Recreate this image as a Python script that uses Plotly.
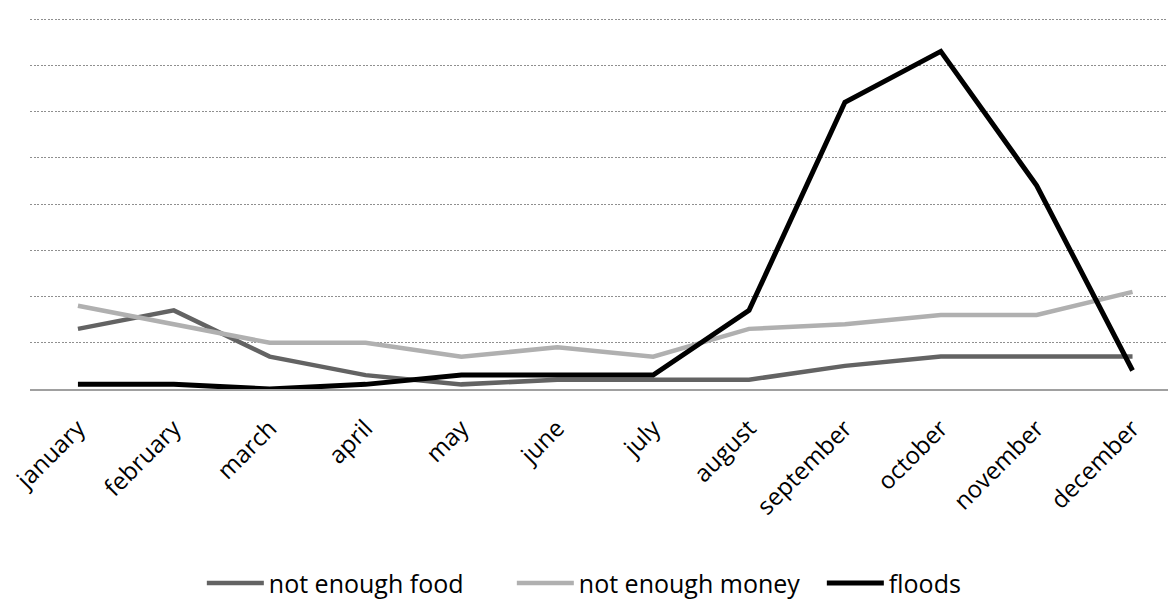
import plotly.graph_objects as go

months = ["january", "february", "march", "april", "may", "june",
          "july", "august", "september", "october", "november", "december"]

not_enough_food = [13, 17, 7, 3, 1, 2, 2, 2, 5, 7, 7, 7]
not_enough_money = [18, 14, 10, 10, 7, 9, 7, 13, 14, 16, 16, 21]
floods = [1, 1, 0, 1, 3, 3, 3, 17, 62, 73, 44, 4]

grid_values = [10, 20, 30, 40, 50, 60, 70, 80]

font_family = "Open Sans, Lato, sans-serif"

fig = go.Figure()
fig.add_trace(go.Scatter(x=months, y=not_enough_food, mode="lines",
                         name="not enough food",
                         line=dict(color="#636363", width=4.5)))
fig.add_trace(go.Scatter(x=months, y=not_enough_money, mode="lines",
                         name="not enough money",
                         line=dict(color="#b0b0b0", width=4.5)))
fig.add_trace(go.Scatter(x=months, y=floods, mode="lines",
                         name="floods",
                         line=dict(color="#000000", width=5)))

fig.update_layout(
    width=1170, height=600,
    margin=dict(l=30, r=2, t=14, b=211),
    paper_bgcolor="white", plot_bgcolor="white",
    font=dict(family=font_family, size=24, color="#000000"),
    showlegend=True,
    legend=dict(orientation="h", x=0.151, xanchor="left",
                yref="container", y=0.028, yanchor="middle",
                itemwidth=57, entrywidth=238, entrywidthmode="pixels",
                font=dict(size=25), traceorder="normal"),
)
fig.update_xaxes(
    type="category", range=[-0.5, 11.37],
    tickangle=-45, showgrid=False, zeroline=False,
    showline=True, linecolor="#a0a0a0", linewidth=1.5,
    ticks="", tickfont=dict(size=24), ticklabelstandoff=14,
)
fig.update_yaxes(
    range=[0, 81.08], tickvals=grid_values, showticklabels=False,
    showgrid=True, gridcolor="#8f8f8f", griddash="2px,1.5px", gridwidth=1,
    zeroline=False, showline=False,
)

fig.write_html("out.html")
